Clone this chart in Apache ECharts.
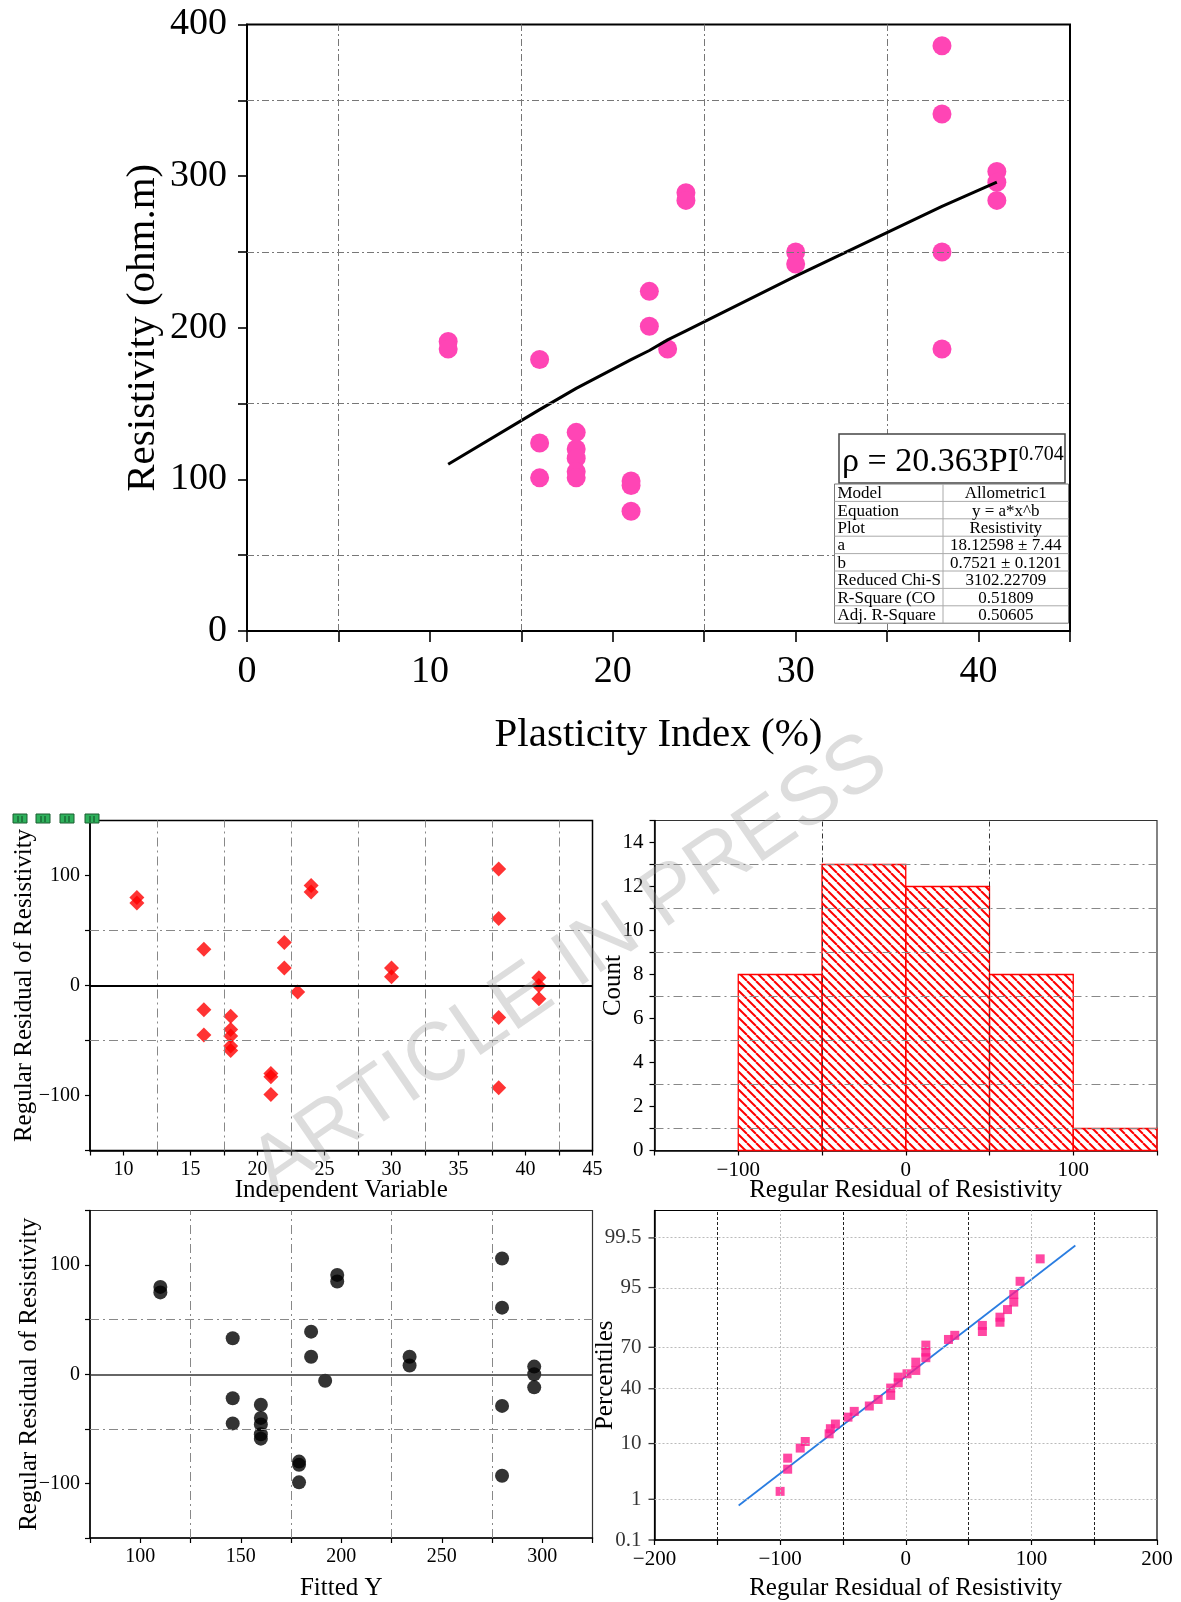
<!DOCTYPE html>
<html>
<head>
<meta charset="utf-8">
<script src="https://cdn.jsdelivr.net/npm/echarts@6/dist/echarts.min.js"></script>
<style>
html,body{margin:0;padding:0;background:#fff;}
#chart{width:1181px;height:1602px;}
</style>
</head>
<body>
<div id="chart"></div>
<script>
// ---------------- DATA ----------------
const plasticityIndex = [11,11,16,16,16,18,18,18,18,18,21,21,21,22,22,23,24,24,30,30,38,38,38,38,41,41,41];
const resistivity     = [191,186,179,124,101,131,120,114,105,101,99,96,79,224,201,186,289,284,250,242,386,341,250,186,303,296,284];
const fittedY         = [110,110,146,146,146,160,160,160,160,160,179,179,179,185,185,192,198,198,234,234,280,280,280,280,296,296,296];
const residuals       = [80,75,33,-22,-45,-28,-40,-46,-55,-59,-80,-83,-99,39,16,-6,91,85,16,8,106,61,-29,-93,7,0,-12];

const fitCurveX = [11,16,18,21,22,23,24,30,38,41];
const fitCurveY = [110,146,160,179,185,192,198,234,280,296];

const histEdges  = [-100,-50,0,50,100,150];
const histCounts = [8,13,12,8,1];

const ppResidual = [-100,-94,-94,-84,-80,-61,-60,-56,-46,-41,-29,-22,-12,-12,-6,-6,1,8,8,16,16,16,34,39,61,61,75,75,81,86,86,91,107];
const ppPercent  = [1.47,3.9,6.0,8.6,10.7,13.6,15.8,18.0,21.6,24.9,28.2,32.5,35.3,40.5,44.4,48.6,51.1,53.6,59.7,62.9,66.8,71.4,74.9,77.3,79.4,82.5,84.0,86.2,89.1,91.5,93.5,96.1,98.55];
const ppLineX       = [-133,135];
const ppLinePercent = [0.73,99.25];
const probTicks     = [0.1,1,10,40,70,95,99.5];

const tableRows = [
  ['Model','Allometric1'],
  ['Equation','y = a*x^b'],
  ['Plot','Resistivity'],
  ['a','18.12598 \u00b1 7.44'],
  ['b','0.7521 \u00b1 0.1201'],
  ['Reduced Chi-S','3102.22709'],
  ['R-Square (CO','0.51809'],
  ['Adj. R-Square','0.50605']
];

const topGridX = [5,15,25,35], topGridY = [50,150,250,350];
const residGridX = [12.5,17.5,22.5,27.5,32.5,37.5,42.5], residGridY = [-50,50];
const histGridX = [-50,50], histGridY = [1,3,5,7,9,11,13];
const fitGridX = [125,175,225,275];
const ppGridDark = [-150,-50,50,150], ppGridLight = [-100,0,100];

// ---------------- HELPERS ----------------
const SERIF = '"Liberation Serif", "Times New Roman", serif';
function probit(p){
  const a=[-3.969683028665376e+01,2.209460984245205e+02,-2.759285104469687e+02,1.383577518672690e+02,-3.066479806614716e+01,2.506628277459239e+00];
  const b=[-5.447609879822406e+01,1.615858368580409e+02,-1.556989798598866e+02,6.680131188771972e+01,-1.328068155288572e+01];
  const c=[-7.784894002430293e-03,-3.223964580411365e-01,-2.400758277161838e+00,-2.549732539343734e+00,4.374664141464968e+00,2.938163982698783e+00];
  const d=[7.784695709041462e-03,3.224671290700398e-01,2.445134137142996e+00,3.754408661907416e+00];
  const pl=0.02425, ph=1-pl; let q,r;
  if(p<pl){q=Math.sqrt(-2*Math.log(p));return (((((c[0]*q+c[1])*q+c[2])*q+c[3])*q+c[4])*q+c[5])/((((d[0]*q+d[1])*q+d[2])*q+d[3])*q+1);}
  if(p<=ph){q=p-0.5;r=q*q;return (((((a[0]*r+a[1])*r+a[2])*r+a[3])*r+a[4])*r+a[5])*q/(((((b[0]*r+b[1])*r+b[2])*r+b[3])*r+b[4])*r+1);}
  q=Math.sqrt(-2*Math.log(1-p));return -(((((c[0]*q+c[1])*q+c[2])*q+c[3])*q+c[4])*q+c[5])/((((d[0]*q+d[1])*q+d[2])*q+d[3])*q+1);
}
const zOf = pct => probit(pct/100);
const fmtNum = v => (v < 0 ? '\u2212' + Math.abs(v) : String(v));

function gridLineSeries(xi, yi, items, z){
  return {type:'line', xAxisIndex:xi, yAxisIndex:yi, data:[], silent:true, z:z||1,
    markLine:{silent:true, symbol:['none','none'], label:{show:false}, animation:false, data: items}};
}
function vLines(vals, style){ return vals.map(v => ({xAxis:v, lineStyle:style})); }
function hLines(vals, style){ return vals.map(v => ({yAxis:v, lineStyle:style})); }

function valAxis(o){
  return {
    gridIndex:o.g, type:'value', min:o.min, max:o.max, interval:o.interval,
    axisLine:{show:true, onZero:false, lineStyle:{color:'#000', width:o.lw||1.5}},
    axisTick:{show:o.tick!==false, inside:false, length:o.tl||5, lineStyle:{color:'#000', width:o.tw||1.2}},
    axisLabel:{show:o.label!==false, formatter:o.fmt, fontFamily:SERIF, fontSize:o.fs, color:'#000', margin:o.margin},
    splitLine:{show:false},
    name:o.name||'', nameLocation:'middle', nameGap:o.gap, nameRotate:o.rot, nameMoveOverlap:false,
    nameTextStyle:{fontFamily:SERIF, fontSize:o.nfs, color:'#000'}
  };
}

// hatch pattern
const hatch = document.createElement('canvas');
hatch.width = 9; hatch.height = 9;
(function(){
  const ctx = hatch.getContext('2d');
  ctx.strokeStyle = '#ff0000'; ctx.lineWidth = 2;
  [-9,0,9].forEach(k => { ctx.beginPath(); ctx.moveTo(k,0); ctx.lineTo(k+9,9); ctx.stroke(); });
})();

// ---------------- OPTION ----------------
const grids = [
  {left:247, top:24.5, width:823, height:606.5, show:true, borderColor:'#000', borderWidth:2},
  {left:90, top:820.5, width:502.5, height:330, show:true, borderColor:'#000', borderWidth:1.5},
  {left:654.5, top:820.5, width:502.5, height:330, show:true, borderColor:'#333', borderWidth:1.2},
  {left:90, top:1210.5, width:502.5, height:330, show:true, borderColor:'#333', borderWidth:1.2},
  {left:654.5, top:1210.5, width:502.5, height:330, show:true, borderColor:'#000', borderWidth:1.2}
];

const xAxes = [
  valAxis({g:0, min:0, max:45, interval:5, fmt:v => v%10===0 ? String(v) : '', fs:38, margin:22, tl:11, lw:2, tw:1.6,
    name:'Plasticity Index (%)', gap:84, nfs:41}),
  valAxis({g:1, min:7.5, max:45, interval:2.5, fmt:v => v%5===0 ? String(v) : '', fs:20, margin:9,
    name:'Independent Variable', gap:27, nfs:25}),
  valAxis({g:2, min:-150, max:150, interval:50, fmt:v => v%100===0 ? fmtNum(v) : '', fs:21, margin:9,
    name:'Regular Residual of Resistivity', gap:27, nfs:25}),
  valAxis({g:3, min:75, max:325, interval:25, fmt:v => (v%50===0 && v>=100 && v<=300) ? String(v) : '', fs:20, margin:9,
    name:'Fitted Y', gap:38, nfs:25}),
  valAxis({g:4, min:-200, max:200, interval:50, fmt:v => v%100===0 ? fmtNum(v) : '', fs:21, margin:9,
    name:'Regular Residual of Resistivity', gap:36, nfs:25})
];
const yAxes = [
  valAxis({g:0, min:0, max:400, interval:50, fmt:v => v%100===0 ? String(v) : '', fs:38, margin:20, tl:9, lw:2, tw:1.6,
    name:'Resistivity (ohm.m)', gap:83, nfs:41, rot:90}),
  valAxis({g:1, min:-150, max:150, interval:50, fmt:v => (v%100===0) ? fmtNum(v) : '', fs:20, margin:10,
    name:'Regular Residual of Resistivity', gap:53, nfs:25, rot:90}),
  valAxis({g:2, min:0, max:15, interval:1, fmt:v => (v%2===0 && v<=14) ? String(v) : '', fs:21, margin:11,
    name:'Count', gap:29, nfs:25, rot:90}),
  valAxis({g:3, min:-150, max:150, interval:50, fmt:v => (v%100===0) ? fmtNum(v) : '', fs:20, margin:10,
    name:'Regular Residual of Resistivity', gap:48, nfs:25, rot:90}),
  valAxis({g:4, min:zOf(0.1), max:-zOf(0.1), interval:1, label:false, tick:false,
    name:'Percentiles', gap:37, nfs:25, rot:90})
];

const gTop = {color:'#777', width:1, type:[7,3,2,3]};
const gMid = {color:'#888', width:1, type:[9,4,2,4]};
const series = [
  // top chart
  gridLineSeries(0,0,[...vLines(topGridX,gTop), ...hLines(topGridY,gTop)]),
  {type:'scatter', xAxisIndex:0, yAxisIndex:0, symbol:'circle', symbolSize:19,
   itemStyle:{color:'#ff45b5', opacity:1}, data: plasticityIndex.map((x,i)=>[x, resistivity[i]]), z:3},
  {type:'line', xAxisIndex:0, yAxisIndex:0, smooth:false, symbol:'none',
   lineStyle:{color:'#000', width:3, join:'round'}, data: fitCurveX.map((x,i)=>[x, fitCurveY[i]]), z:4},

  // residual vs independent variable
  gridLineSeries(1,1,[...vLines(residGridX,gMid), ...hLines(residGridY,gMid),
    {yAxis:0, lineStyle:{color:'#000', width:2, type:'solid'}}]),
  {type:'scatter', xAxisIndex:1, yAxisIndex:1, symbol:'diamond', symbolSize:15,
   itemStyle:{color:'#ff0000'}, data: plasticityIndex.map((x,i)=>[x, residuals[i]]), z:3},

  // histogram
  gridLineSeries(2,2,[...hLines(histGridY,gMid), ...vLines(histGridX,{color:'#333', width:1, type:[5,3,1,3]})]),
  {type:'custom', xAxisIndex:2, yAxisIndex:2, z:3,
   encode:{x:[0,1], y:2},
   data: histCounts.map((c,i)=>[histEdges[i], histEdges[i+1], c]),
   renderItem:function(params, api){
     const p0 = api.coord([api.value(0), api.value(2)]);
     const p1 = api.coord([api.value(1), 0]);
     return {type:'rect', shape:{x:p0[0], y:p0[1], width:p1[0]-p0[0], height:p1[1]-p0[1]},
       style:{fill:{image:hatch, repeat:'repeat'}, stroke:'#ff0000', lineWidth:1.3}};
   }},

  // residual vs fitted
  gridLineSeries(3,3,[...vLines(fitGridX,gMid), ...hLines(residGridY,gMid),
    {yAxis:0, lineStyle:{color:'#333', width:1.6, type:'solid'}}]),
  {type:'scatter', xAxisIndex:3, yAxisIndex:3, symbol:'circle', symbolSize:14,
   itemStyle:{color:'#000'}, data: fittedY.map((x,i)=>[x, residuals[i]]), z:3},

  // normal probability plot
  gridLineSeries(4,4,[...vLines(ppGridDark,{color:'#222', width:1, type:[3,2]}),
    ...vLines(ppGridLight,{color:'#bbb', width:1, type:[2,2]}),
    ...hLines(probTicks.slice(1).map(zOf),{color:'#bbb', width:1, type:[2,2]})]),
  {type:'line', xAxisIndex:4, yAxisIndex:4, symbol:'none', lineStyle:{color:'#2a7de1', width:1.8},
   data: ppLineX.map((x,i)=>[x, zOf(ppLinePercent[i])]), z:3},
  {type:'scatter', xAxisIndex:4, yAxisIndex:4, symbol:'rect', symbolSize:9,
   itemStyle:{color:'#ff1a8c'}, data: ppResidual.map((x,i)=>[x, zOf(ppPercent[i])]), z:4},
  {type:'scatter', xAxisIndex:4, yAxisIndex:4, symbol:'rect', symbolSize:[6,1.3], symbolOffset:[-3,0],
   itemStyle:{color:'#000'}, silent:true, clip:false, z:5,
   data: probTicks.map(p=>[-200, zOf(p)]),
   label:{show:true, position:'left', distance:7, fontFamily:SERIF, fontSize:21, color:'#000',
     formatter: params => String(probTicks[params.dataIndex])}}
];

// ---------------- GRAPHIC (annotations) ----------------
const graphic = [];
// equation box
graphic.push({type:'rect', shape:{x:839, y:434, width:226, height:49},
  style:{fill:'#fff', stroke:'#444', lineWidth:1.5}, z:50});
graphic.push({type:'text', x:842, y:462, z:51,
  style:{text:'{a|\u03c1 = 20.363PI}{s|0.704}', fontFamily:SERIF, fontSize:34, fill:'#000', verticalAlign:'middle', align:'left',
    rich:{a:{fontFamily:SERIF, fontSize:34, fill:'#000'}, s:{fontFamily:SERIF, fontSize:20, fill:'#000', verticalAlign:'top', padding:[0,0,14,0]}}}});
// stats table
const tX = 834.5, tY = 484, tW = 234, rowH = 17.4, colX = 943;
graphic.push({type:'rect', shape:{x:tX, y:tY, width:tW, height:rowH*tableRows.length},
  style:{fill:'#fff', stroke:'#777', lineWidth:1}, z:50});
for (let i = 1; i < tableRows.length; i++) {
  graphic.push({type:'line', shape:{x1:tX, y1:tY+i*rowH, x2:tX+tW, y2:tY+i*rowH}, style:{stroke:'#aaa', lineWidth:1}, z:51});
}
graphic.push({type:'line', shape:{x1:colX, y1:tY, x2:colX, y2:tY+rowH*tableRows.length}, style:{stroke:'#aaa', lineWidth:1}, z:51});
tableRows.forEach((r,i) => {
  graphic.push({type:'text', x:tX+3, y:tY+i*rowH+rowH/2+1, z:52,
    style:{text:r[0], fontFamily:SERIF, fontSize:17, fill:'#000', align:'left', verticalAlign:'middle'}});
  graphic.push({type:'text', x:(colX+tX+tW)/2, y:tY+i*rowH+rowH/2+1, z:52,
    style:{text:r[1], fontFamily:SERIF, fontSize:17, fill:'#000', align:'center', verticalAlign:'middle'}});
});
// small green markers above residual panel
[13, 36, 60, 85].forEach(x => {
  graphic.push({type:'rect', shape:{x:x, y:814, width:14, height:9}, style:{fill:'#2fb15c', stroke:'#1b5e31', lineWidth:1}, z:40});
  graphic.push({type:'line', shape:{x1:x+5, y1:816, x2:x+5, y2:822}, style:{stroke:'#114422', lineWidth:1}, z:41});
  graphic.push({type:'line', shape:{x1:x+9, y1:816, x2:x+9, y2:822}, style:{stroke:'#114422', lineWidth:1}, z:41});
});
// watermark
graphic.push({type:'text', x:570, y:966, rotation:0.602, z:100, silent:true,
  style:{text:'ARTICLE IN PRESS', fontFamily:'"Liberation Sans", Arial, sans-serif', fontSize:82, fill:'rgba(150,150,150,0.32)',
    align:'center', verticalAlign:'middle'}});

const chart = echarts.init(document.getElementById('chart'), null, {renderer:'canvas'});
chart.setOption({
  animation:false,
  backgroundColor:'#fff',
  grid: grids,
  xAxis: xAxes,
  yAxis: yAxes,
  series: series,
  graphic: graphic
});
</script>
</body>
</html>
